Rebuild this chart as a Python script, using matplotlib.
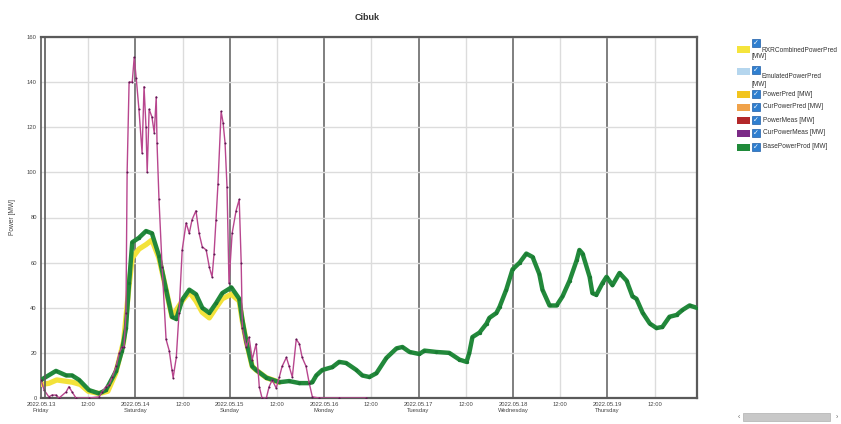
import matplotlib
matplotlib.use("Agg")
import matplotlib.pyplot as plt
from matplotlib.patches import Rectangle

plt.rcParams["font.family"] = ["Liberation Sans", "DejaVu Sans"]

# hours since 2022.05.13 00:00
base_h = [0, 3.8, 6.4, 7.9, 9.7, 12.2, 14.8, 16.5, 19.1, 20.6, 21.6, 22.4, 23.2, 24.9,
          26.7, 28.2, 30.0, 31.8, 33.3, 34.4, 35.9, 37.7, 39.4, 41.0, 42.8, 44.5, 46.1,
          48.4, 50.4, 51.2, 52.2, 53.7, 54.7, 57.3, 60.6, 63.1, 65.7, 68.2, 69.0, 70.0,
          71.5, 74.1, 75.8, 77.6, 80.2, 81.7, 83.5, 85.3, 87.8, 90.4, 91.9, 93.7, 96.2,
          97.5, 100.5, 103.8, 106.4, 108.2, 108.9, 109.7, 111.5, 113.3, 114.0, 115.8,
          116.6, 118.3, 119.9, 121.7, 123.4, 125.0, 126.7, 127.5, 129.3, 131.1, 132.6,
          134.4, 136.2, 136.9, 137.7, 139.5, 140.2, 141.2, 142.8, 143.8, 145.3, 147.1,
          148.9, 150.4, 151.4, 153.0, 154.8, 156.5, 158.0, 159.8, 161.6, 163.1, 164.9, 166.7]
base_mw = [8, 12, 10, 10, 8, 3.5, 2, 3.5, 12, 21, 31, 51, 69, 71,
           74, 73, 63, 48, 36, 35, 43.5, 48, 46, 40, 37.7, 42, 46.5,
           49, 44, 34.6, 25, 14, 12.4, 9, 7, 7.5, 6.6, 6.6, 7, 10,
           12.4, 13.7, 16, 15.5, 12.4, 10, 9.3, 11, 17.7, 22, 22.6, 20.4, 19.5,
           21, 20.4, 20, 17, 16, 20, 27, 29, 33, 35.5, 37.7,
           40.4, 48, 57, 60, 64, 62.5, 55, 48, 41, 41, 45,
           52, 61, 65.6, 64, 53.7, 46.5, 45.7, 51, 53.7, 50, 55.4,
           52, 45, 44, 37.7, 33, 31, 31.5, 36, 36.8, 39, 41, 40]

pred_h = [0, 2, 4, 6, 8, 10, 12, 14.8, 17, 19, 21, 22.4, 23.2, 24.9, 26.7, 28.2, 30,
          31.8, 33.3, 35.9, 37.7, 39.4, 41, 42.8, 44.5, 46.1, 48.4, 50.4, 51.2, 52.2,
          53.7, 54.7, 57.3, 60.6]
pred_mw = [6, 6.5, 8, 7.5, 7, 6, 3, 2, 3, 11, 25, 50, 62, 66, 68, 70, 62,
           48, 36, 43, 47, 43, 38, 35.5, 40, 44, 46, 43, 34, 25,
           14, 12.4, 9, 7]

meas_h = [0, 0.8, 2.0, 2.8, 3.8, 4.6, 6.4, 7.1, 7.9, 8.9, 12.2, 14.8, 15.5, 16.5, 17.3,
          18.1, 19.1, 19.9, 20.6, 21.1, 21.6, 21.9, 22.4, 23.2, 23.7, 24.2, 24.9, 25.7,
          26.2, 26.7, 27.0, 27.5, 28.2, 28.8, 29.3, 29.5, 30.0, 30.8, 31.8, 32.6, 33.3,
          33.6, 34.4, 35.1, 35.9, 36.9, 37.7, 38.4, 39.4, 40.2, 41.0, 42.0, 42.8, 43.5,
          44.0, 44.5, 45.0, 45.8, 46.3, 46.8, 47.3, 47.8, 48.6, 49.6, 50.4, 50.9, 51.2,
          52.2, 52.9, 53.7, 54.7, 55.5, 56.2, 57.3, 58.0, 58.8, 59.8, 60.6, 61.3, 62.4,
          63.1, 63.9, 64.9, 65.7, 66.4, 67.4, 68.2, 69.0, 70.7, 75.8, 82.7]
meas_mw = [8, 3.5, 0.5, 1.3, 1.3, 0, 2.7, 5, 2.7, 0, 0, 0.5, 2.7, 5, 5.8,
           9.3, 14, 20, 22.6, 22.6, 37.7, 100, 140, 140, 151, 142, 128, 108.6,
           138, 120, 100, 128, 124.6, 117.5, 133.5, 113, 88, 58, 26, 21, 12.4,
           9, 18, 37.7, 65.6, 77.6, 73, 79, 83, 73, 67, 65.6, 58, 53.7,
           64, 79, 95, 127, 122, 113, 93.5, 51, 73, 83, 88, 60, 31,
           22.6, 27, 17, 24, 5, 0, 0, 5, 8, 4.4, 9.3, 14, 18,
           14, 9.3, 26, 24, 18, 14, 6.6, 0.5, 0, 0, 0]

tick_h = [0, 12, 24, 36, 48, 60, 72, 84, 96, 108, 120, 132, 144, 156]
tick_labels = ["2022.05.13\nFriday", "12:00", "2022.05.14\nSaturday", "12:00",
               "2022.05.15\nSunday", "12:00", "2022.05.16\nMonday", "12:00",
               "2022.05.17\nTuesday", "12:00", "2022.05.18\nWednesday", "12:00",
               "2022.05.19\nThursday", "12:00"]
y_ticks = [0, 20, 40, 60, 80, 100, 120, 140, 160]

legend_labels = [["RXRCombinedPowerPred", "[MW]"], ["EmulatedPowerPred", "[MW]"],
                 ["PowerPred [MW]"], ["CurPowerPred [MW]"], ["PowerMeas [MW]"],
                 ["CurPowerMeas [MW]"], ["BasePowerProd [MW]"]]
legend_colors = ["#f5e43c", "#b5d6ee", "#f2c41e", "#f0a24a", "#b3282a", "#7b2a86", "#1f8a3a"]

W, H = 841, 424
fig = plt.figure(figsize=(W / 100, H / 100), dpi=100)
fig.patch.set_facecolor("white")
ax = fig.add_axes([41 / W, 1 - 398 / H, (697 - 41) / W, (398 - 37) / H])

ax.plot(pred_h, pred_mw, color="#f3e23a", lw=3.8, zorder=3, solid_capstyle="round")
ax.plot(base_h, base_mw, color="#22893b", lw=3.2, zorder=4,
        marker="o", ms=2.4, mfc="#1a7a33", mec="none")
ax.plot(meas_h, meas_mw, color="#b8468e", lw=1.0, zorder=5,
        marker=".", ms=3, mfc="#5e1852", mec="none")

ax.set_xlim(0, 166.8)
ax.set_ylim(0, 160)
ax.set_yticks(y_ticks)
ax.set_yticklabels([str(v) for v in y_ticks], fontsize=4.2, color="#444")
ax.set_xticks(tick_h)
ax.set_xticklabels(tick_labels, fontsize=4.2, color="#444", linespacing=1.3)
ax.tick_params(length=0, pad=3)
ax.set_ylabel("Power [MW]", fontsize=4.8, color="#444", labelpad=8)

ax.grid(axis="y", color="#dcdcdc", lw=1.0, zorder=0)
for h in tick_h:
    if h % 24 == 0 and h > 0:
        ax.axvline(h, color="#6a6a6a", lw=1.2, zorder=1)
    elif h % 24 == 12:
        ax.axvline(h, color="#dcdcdc", lw=1.0, zorder=0)

for side in ("top", "bottom", "right"):
    ax.spines[side].set_color("#5a5a5a")
    ax.spines[side].set_linewidth(1.6)
ax.spines["left"].set_color("#5a5a5a")
ax.spines["left"].set_linewidth(1.2)
ax.axvline(0.9, color="#5a5a5a", lw=1.2, zorder=6)

fig.text(367 / W, 1 - 17 / H, "Cibuk", fontsize=6.5, fontweight="bold",
         color="#333", ha="center", va="center")

# legend drawn by hand (swatch, checkbox, text)
rows_y = [49, 71, 94, 107, 120, 133, 147]
for lab, col, y in zip(legend_labels, legend_colors, rows_y):
    fig.patches.append(Rectangle((737 / W, 1 - (y + 3.5) / H), 13 / W, 7 / H,
                                 transform=fig.transFigure, color=col, lw=0))
    if len(lab) == 2:
        cy = y - 6 if y < 60 else y - 1
    else:
        cy = y
    fig.patches.append(Rectangle((752 / W, 1 - (cy + 4) / H), 8 / W, 8 / H,
                                 transform=fig.transFigure, fc="#2f7fd0",
                                 ec="#1f5fa8", lw=0.5))
    fig.text(756 / W, 1 - cy / H, "\u2713", fontsize=5, color="white",
             ha="center", va="center", family="DejaVu Sans")
    if len(lab) == 2:
        fig.text(762 / W, 1 - (cy + 7) / H, lab[0], fontsize=4.7, color="#333",
                 ha="left", va="center")
        fig.text(752 / W, 1 - (cy + 14) / H, lab[1], fontsize=4.7, color="#333",
                 ha="left", va="center")
    else:
        fig.text(763 / W, 1 - y / H, lab[0], fontsize=4.7, color="#333",
                 ha="left", va="center")

# scrollbar at bottom right
fig.patches.append(Rectangle((743 / W, 1 - 421 / H), 87 / W, 8 / H,
                             transform=fig.transFigure, fc="#c8c8c8", ec="#b0b0b0", lw=0.5))
fig.text(739 / W, 1 - 417 / H, "\u2039", fontsize=5, color="#666", ha="center", va="center")
fig.text(837 / W, 1 - 417 / H, "\u203a", fontsize=5, color="#666", ha="center", va="center")

fig.savefig("out.png", dpi=100, facecolor="white")
